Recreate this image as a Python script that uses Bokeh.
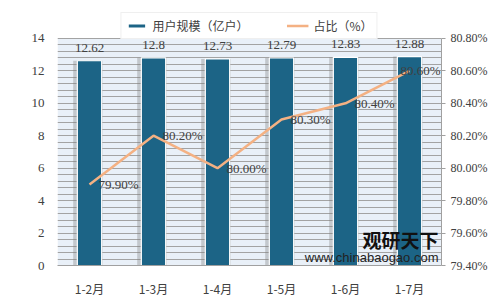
from bokeh.plotting import figure
from bokeh.models import (Range1d, LinearAxis, SingleIntervalTicker, FixedTicker, Legend, LegendItem,
                          ColumnDataSource, Label, LabelSet, FactorRange, CustomJSTickFormatter,
                          BoxAnnotation)
from bokeh.transform import dodge
from bokeh.embed import file_html
from bokeh.resources import INLINE

# ---- data ----
months = ["1-2月", "1-3月", "1-4月", "1-5月", "1-6月", "1-7月"]
users = [12.62, 12.8, 12.73, 12.79, 12.83, 12.88]          # 用户规模（亿户）
share = [79.90, 80.20, 80.00, 80.30, 80.40, 80.60]          # 占比（%）
left_ticks = [0, 2, 4, 6, 8, 10, 12, 14]
right_ticks = [79.4, 79.6, 79.8, 80.0, 80.2, 80.4, 80.6, 80.8]

user_labels = [f"{v:g}" for v in users]
share_labels = [f"{v:.2f}%" for v in share]

src = ColumnDataSource(dict(m=months, u=users, s=share, ul=user_labels, sl=share_labels))
# the last share label sits against the right edge, so it gets its own source
src_last = ColumnDataSource(dict(m=months[-1:], s=share[-1:], sl=share_labels[-1:]))
src_first = ColumnDataSource(dict(m=months[:-1], s=share[:-1], sl=share_labels[:-1]))

NUM_FONT = "Liberation Serif"
CJK_FONT = "Noto Sans CJK SC"
TXT = "#404040"

# layout: value area spans canvas y 38..266; frame extended up to y 8 to host the legend
W, H = 501, 299
TOP_FRAME, TOP_AXIS, BOTTOM = 8, 38, 266
ext = (BOTTOM - TOP_FRAME) / (BOTTOM - TOP_AXIS)
l0, l1 = left_ticks[0], left_ticks[-1]
r0, r1 = right_ticks[0], right_ticks[-1]

p = figure(width=W, height=H, x_range=FactorRange(*months, range_padding=0),
           y_range=Range1d(l0, l0 + (l1 - l0) * ext),
           output_backend="svg", toolbar_location=None,
           min_border_left=57, min_border_right=60, min_border_top=TOP_FRAME,
           min_border_bottom=H - BOTTOM)
p.extra_y_ranges = {"pct": Range1d(r0, r0 + (r1 - r0) * ext)}

p.border_fill_color = "white"
p.background_fill_color = "white"
p.outline_line_color = None

# plot-area background limited to the value range
p.add_layout(BoxAnnotation(bottom=l0, top=l1, fill_color="#e9f0f8", fill_alpha=1,
                           line_color=None, level="image"))

# grid
p.xgrid.grid_line_color = None
p.ygrid.ticker = SingleIntervalTicker(interval=0.4)
p.ygrid.bounds = (l0, l1)
p.ygrid.grid_line_color = "#a3a3a3"
p.ygrid.grid_line_width = 1

# left axis
p.yaxis.ticker = FixedTicker(ticks=left_ticks)
p.yaxis.bounds = (l0, l1)
p.yaxis.axis_line_color = None
p.yaxis.major_tick_line_color = None
p.yaxis.minor_tick_line_color = None
p.yaxis.major_label_text_font = NUM_FONT
p.yaxis.major_label_text_font_size = "13px"
p.yaxis.major_label_text_color = TXT
p.yaxis.major_label_standoff = 7

# x axis
p.xaxis.axis_line_color = "#a0a0a0"
p.xaxis.major_tick_line_color = None
p.xaxis.minor_tick_line_color = None
p.xaxis.major_label_text_font = CJK_FONT
p.xaxis.major_label_text_font_size = "12px"
p.xaxis.major_label_text_color = TXT
p.xaxis.major_label_standoff = 8

# right axis
ra = LinearAxis(y_range_name="pct", ticker=FixedTicker(ticks=right_ticks), bounds=(r0, r1))
ra.formatter = CustomJSTickFormatter(code="return tick.toFixed(2) + '%';")
ra.axis_line_color = "#a0a0a0"
ra.major_tick_line_color = "#a0a0a0"
ra.major_tick_in = 0
ra.major_tick_out = 4
ra.minor_tick_line_color = None
ra.major_label_text_font = NUM_FONT
ra.major_label_text_font_size = "12px"
ra.major_label_text_color = TXT
ra.major_label_standoff = 5
p.add_layout(ra, "right")

# bar shadows
p.vbar(x=dodge("m", -0.025, range=p.x_range), top="u", bottom=0, width=0.46, source=src,
       fill_color="#7f7f7f", fill_alpha=0.35, line_color=None)
bars = p.vbar(x="m", top="u", width=0.38, source=src, fill_color="#1c6486",
              line_color="white", line_width=1.2)

line = p.line(x="m", y="s", source=src, y_range_name="pct", line_color="#f4b183", line_width=2.5)

p.add_layout(LabelSet(x="m", y="u", text="ul", source=src, text_align="center",
                      text_baseline="middle", y_offset=13, text_font=NUM_FONT,
                      text_font_size="13px", text_color=TXT))
p.add_layout(LabelSet(x="m", y="s", text="sl", source=src_first, y_range_name="pct",
                      text_align="left", text_baseline="middle", x_offset=9,
                      text_font=NUM_FONT, text_font_size="13px", text_color=TXT))
p.add_layout(LabelSet(x="m", y="s", text="sl", source=src_last, y_range_name="pct",
                      text_align="right", text_baseline="middle", x_offset=31,
                      text_font=NUM_FONT, text_font_size="13px", text_color=TXT))

legend = Legend(items=[LegendItem(label="用户规模（亿户）", renderers=[bars]),
                       LegendItem(label="占比（%）", renderers=[line])],
                orientation="horizontal", location="top_center",
                label_text_font=CJK_FONT, label_text_font_size="12px", label_text_color=TXT,
                glyph_width=22, glyph_height=5, spacing=38, padding=4, margin=4,
                label_standoff=5,
                border_line_color="#e0e0e0", background_fill_color="white", background_fill_alpha=1)
p.add_layout(legend)

# watermark (screen units relative to the frame's bottom-left), kept inside the frame
p.add_layout(Label(x=438 - 57, y=BOTTOM - 240, x_units="screen", y_units="screen", text="观研天下",
                   text_font=CJK_FONT, text_font_size="19px", text_font_style="bold",
                   text_color="#111111", text_baseline="middle", text_align="right"))
p.add_layout(Label(x=438 - 57, y=BOTTOM - 258, x_units="screen", y_units="screen",
                   text="www.chinabaogao.com",
                   text_font="Liberation Sans", text_font_size="13px",
                   text_color="#222222", text_baseline="middle", text_align="right"))

open("out.html", "w").write(file_html(p, INLINE))
